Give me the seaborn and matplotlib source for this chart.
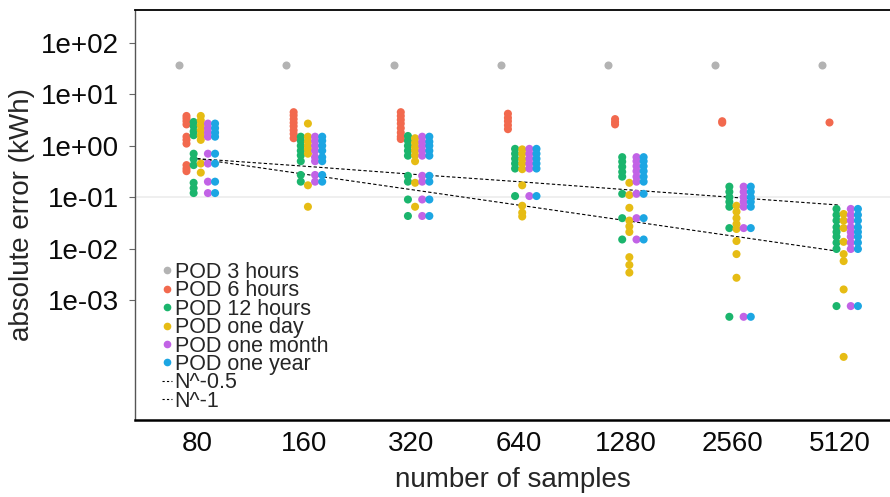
import numpy as np
import pandas as pd
import seaborn as sns
import matplotlib.pyplot as plt
from matplotlib.lines import Line2D
from matplotlib.ticker import NullLocator

# number of samples (categorical x)
samples = ['80', '160', '320', '640', '1280', '2560', '5120']
series = ['POD 3 hours', 'POD 6 hours', 'POD 12 hours',
          'POD one day', 'POD one month', 'POD one year']
colors = ['#b3b3b3', '#f2694e', '#1bb56d', '#e6bc14', '#c263e6', '#1ca6e3']

# absolute error values, one list per sample size
pod_3h = [[38], [38], [38], [38], [38], [38], [38]]
pod_6h = [
    [3.8, 3.4, 3.0, 2.6, 1.5, 1.3, 1.1, 0.42, 0.36, 0.32],
    [4.5, 3.9, 3.3, 2.8, 2.4, 2.0, 1.7, 1.4],
    [4.5, 3.8, 3.2, 2.7, 2.2, 1.8, 1.5, 1.35],
    [4.2, 3.5, 3.0, 2.5, 2.1],
    [3.3, 2.9, 2.6],
    [3.0, 2.8],
    [2.9],
]
pod_12h = [
    [2.9, 2.4, 1.9, 1.6, 0.7, 0.55, 0.42, 0.19, 0.15, 0.12],
    [1.5, 1.25, 1.0, 0.8, 0.65, 0.5, 0.27, 0.2],
    [1.55, 1.25, 1.0, 0.8, 0.64, 0.26, 0.2, 0.09, 0.043],
    [0.87, 0.7, 0.56, 0.45, 0.36, 0.105],
    [0.6, 0.49, 0.39, 0.31, 0.25, 0.116, 0.039, 0.015],
    [0.16, 0.127, 0.1, 0.081, 0.065, 0.025, 0.00047],
    [0.059, 0.045, 0.035, 0.026, 0.021, 0.017, 0.013, 0.0098, 0.00076],
]
pod_1d = [
    [3.8, 3.1, 2.5, 2.0, 1.6, 1.3, 0.45, 0.3],
    [2.7, 1.5, 1.2, 1.0, 0.85, 0.7, 0.17, 0.065],
    [1.4, 1.15, 0.95, 0.8, 0.65, 0.5, 0.19, 0.065],
    [0.85, 0.7, 0.55, 0.45, 0.35, 0.17, 0.068, 0.05, 0.042],
    [0.19, 0.11, 0.062, 0.035, 0.027, 0.021, 0.0068, 0.0048, 0.0034],
    [0.068, 0.052, 0.039, 0.03, 0.024, 0.014, 0.0078, 0.0027],
    [0.047, 0.035, 0.025, 0.0135, 0.0078, 0.0057, 0.0016, 0.000078],
]
pod_1m = [
    [2.7, 2.2, 1.8, 1.5, 0.7, 0.45, 0.2, 0.12],
    [1.5, 1.25, 1.0, 0.8, 0.6, 0.5, 0.27, 0.2],
    [1.5, 1.2, 1.0, 0.8, 0.64, 0.26, 0.2, 0.09, 0.043],
    [0.87, 0.7, 0.56, 0.45, 0.36, 0.105],
    [0.6, 0.5, 0.4, 0.32, 0.25, 0.2, 0.116, 0.039, 0.015],
    [0.16, 0.127, 0.1, 0.081, 0.065, 0.025, 0.00047],
    [0.059, 0.045, 0.035, 0.026, 0.021, 0.017, 0.013, 0.0098, 0.00076],
]
pod_1y = [
    [2.7, 2.2, 1.8, 1.5, 0.7, 0.45, 0.2, 0.12],
    [1.5, 1.25, 1.0, 0.8, 0.6, 0.5, 0.27, 0.2],
    [1.5, 1.2, 1.0, 0.8, 0.64, 0.26, 0.2, 0.09, 0.043],
    [0.87, 0.7, 0.56, 0.45, 0.36, 0.105],
    [0.6, 0.5, 0.4, 0.32, 0.25, 0.2, 0.116, 0.039, 0.015],
    [0.16, 0.127, 0.1, 0.081, 0.065, 0.025, 0.00047],
    [0.059, 0.045, 0.035, 0.026, 0.021, 0.017, 0.013, 0.0098, 0.00076],
]

# reference scaling lines
n_half = [0.56, 0.40, 0.28, 0.20, 0.14, 0.099, 0.07]
n_one = [0.56, 0.28, 0.14, 0.07, 0.035, 0.0175, 0.00875]

ytick_vals = [1e2, 1e1, 1e0, 1e-1, 1e-2, 1e-3]
ytick_labels = ['1e+02', '1e+01', '1e+00', '1e-01', '1e-02', '1e-03']

rows = []
for name, vals in zip(series, [pod_3h, pod_6h, pod_12h, pod_1d, pod_1m, pod_1y]):
    for s, group in zip(samples, vals):
        for v in group:
            rows.append((s, name, v))
df = pd.DataFrame(rows, columns=['samples', 'series', 'error'])

sns.set_theme(style='white')
plt.rcParams['font.family'] = ['Liberation Sans', 'DejaVu Sans']

fig, ax = plt.subplots(figsize=(8.9, 4.97), dpi=100)
fig.subplots_adjust(left=0.152, right=1.0, top=0.98, bottom=0.155)

ax.axhline(0.1, color='#ececec', lw=1.2, zorder=0)

sns.stripplot(data=df, x='samples', y='error', hue='series', order=samples,
              hue_order=series, palette=colors, dodge=True, jitter=False,
              size=5.8, linewidth=0, legend=False, ax=ax)

# narrow the dodge so the series sit close together
for coll in ax.collections:
    off = coll.get_offsets()
    if len(off):
        center = np.round(off[:, 0])
        off[:, 0] = center + (off[:, 0] - center) * 0.5
        coll.set_offsets(off)

ax.plot(range(len(samples)), n_half, ls='--', color='black', lw=0.8, dashes=(3, 2))
ax.plot(range(len(samples)), n_one, ls='--', color='black', lw=0.8, dashes=(3, 2))

ax.set_yscale('log')
ax.set_ylim(10 ** -5.335, 10 ** 2.642)
ax.set_xlim(-0.578, 6.466)
ax.set_yticks(ytick_vals)
ax.set_yticklabels(ytick_labels)
ax.yaxis.set_minor_locator(NullLocator())

ax.tick_params(axis='y', which='major', left=True, length=4, width=0.8,
               color='#666666', pad=8, labelsize=20, labelcolor='#0a0a0a')
ax.tick_params(axis='x', length=0, pad=8, labelsize=20, labelcolor='#0a0a0a')
ax.set_xlabel('number of samples', fontsize=20, labelpad=7)
ax.set_ylabel('absolute error (kWh)', fontsize=20, labelpad=4)

ax.spines['right'].set_visible(False)
ax.spines['left'].set_color('#555555')
ax.spines['left'].set_linewidth(1.0)
ax.spines['top'].set_color('black')
ax.spines['top'].set_linewidth(1.3)
ax.spines['bottom'].set_color('black')
ax.spines['bottom'].set_linewidth(1.8)

handles = [Line2D([], [], marker='o', ls='', color=c, markersize=4.5) for c in colors]
handles += [Line2D([], [], ls='--', color='black', lw=0.8, dashes=(2, 2)),
            Line2D([], [], ls='--', color='black', lw=0.8, dashes=(2, 2))]
labels = series + ['N^-0.5', 'N^-1']
ax.legend(handles, labels, loc='lower left', bbox_to_anchor=(0.035, 0.02),
          frameon=False, fontsize=15.5, handlelength=0.5, handletextpad=0.1,
          labelspacing=-0.12, borderpad=0, borderaxespad=0)

plt.savefig('out.png', dpi=100)
